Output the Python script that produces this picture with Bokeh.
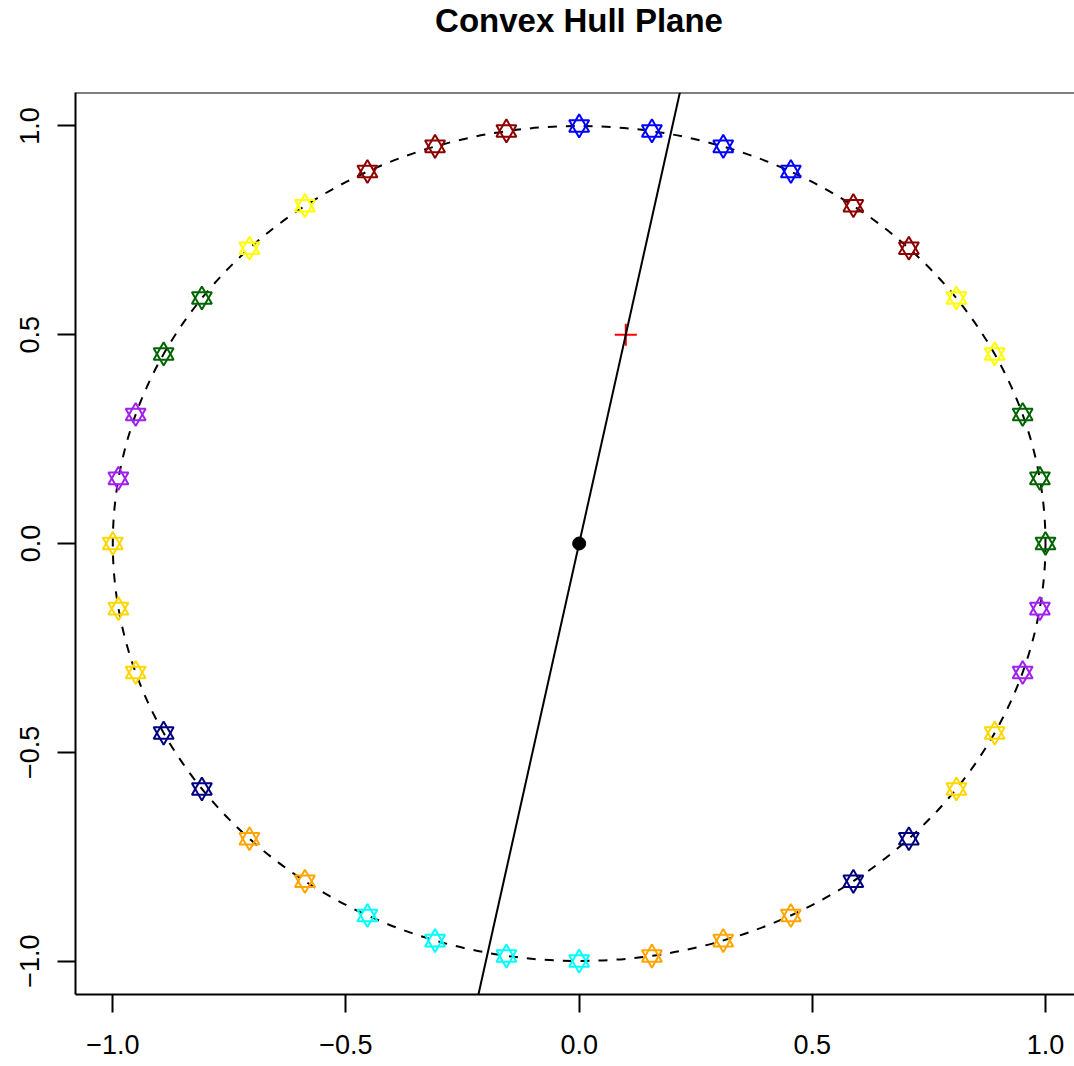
from bokeh.plotting import figure
from bokeh.models import Range1d, FixedTicker, Span, Slope, Label
from bokeh.embed import file_html
from bokeh.resources import INLINE

# Points on the unit circle (every 9 degrees, starting at angle 0)
px = [1.000, 0.988, 0.951, 0.891, 0.809, 0.707, 0.588, 0.454, 0.309, 0.156,
      0.000, -0.156, -0.309, -0.454, -0.588, -0.707, -0.809, -0.891, -0.951, -0.988,
      -1.000, -0.988, -0.951, -0.891, -0.809, -0.707, -0.588, -0.454, -0.309, -0.156,
      0.000, 0.156, 0.309, 0.454, 0.588, 0.707, 0.809, 0.891, 0.951, 0.988]
py = [0.000, 0.156, 0.309, 0.454, 0.588, 0.707, 0.809, 0.891, 0.951, 0.988,
      1.000, 0.988, 0.951, 0.891, 0.809, 0.707, 0.588, 0.454, 0.309, 0.156,
      0.000, -0.156, -0.309, -0.454, -0.588, -0.707, -0.809, -0.891, -0.951, -0.988,
      -1.000, -0.988, -0.951, -0.891, -0.809, -0.707, -0.588, -0.454, -0.309, -0.156]
pcol = ["darkgreen", "darkgreen", "darkgreen", "yellow", "yellow",
        "darkred", "darkred", "blue", "blue", "blue",
        "blue", "darkred", "darkred", "darkred", "yellow",
        "yellow", "darkgreen", "darkgreen", "#A020F0", "#A020F0",
        "gold", "gold", "gold", "navy", "navy",
        "orange", "orange", "cyan", "cyan", "cyan",
        "cyan", "orange", "orange", "orange", "navy",
        "navy", "gold", "gold", "#A020F0", "#A020F0"]

# Hull centre, query point and the separating plane (line through centre)
center_x, center_y = [0.0], [0.0]
query_x, query_y = [0.1], [0.5]
plane_gradient = 5.0
plane_intercept = 0.0

ticks = [-1.0, -0.5, 0.0, 0.5, 1.0]
tick_labels = ["\u22121.0", "\u22120.5", "0.0", "0.5", "1.0"]
title_text = "Convex Hull Plane"

FONT = "Liberation Sans"

p = figure(width=1074, height=1066, output_backend="svg", toolbar_location=None,
           x_range=Range1d(-1.08, 1.0622), y_range=Range1d(-1.08, 1.08),
           min_border_left=75, min_border_right=0, min_border_top=92,
           min_border_bottom=72)

p.outline_line_color = None
p.background_fill_color = "white"
p.border_fill_color = "white"
p.xgrid.grid_line_color = None
p.ygrid.grid_line_color = None

for ax in (p.xaxis[0], p.yaxis[0]):
    ax.ticker = FixedTicker(ticks=ticks)
    ax.major_label_overrides = {t: l for t, l in zip(ticks, tick_labels)}
    ax.axis_line_width = 2
    ax.axis_line_color = "black"
    ax.major_tick_line_width = 2
    ax.major_tick_in = 0
    ax.major_tick_out = 18
    ax.minor_tick_line_color = None
    ax.major_label_text_font = FONT
    ax.major_label_text_font_size = "27px"
    ax.major_label_text_color = "black"
p.xaxis[0].major_label_standoff = 22
p.yaxis[0].major_label_standoff = 18
p.yaxis[0].major_label_orientation = "vertical"

# top edge of the box
p.add_layout(Span(location=1.08, dimension="width", line_color="black", line_width=2))

# dashed unit circle
p.ellipse(x=0, y=0, width=2, height=2, fill_color=None, line_color="black",
          line_width=2, line_dash="9 9")

# separating plane
p.add_layout(Slope(gradient=plane_gradient, y_intercept=plane_intercept,
                   line_color="black", line_width=2))

# star markers: up + down triangles
p.scatter(px, py, marker="triangle", size=20, fill_color=None,
          line_color=pcol, line_width=2)
p.scatter(px, py, marker="inverted_triangle", size=20, fill_color=None,
          line_color=pcol, line_width=2)

p.scatter(center_x, center_y, marker="circle", size=13, fill_color="black",
          line_color="black")
p.scatter(query_x, query_y, marker="cross", size=22, line_color="red",
          line_width=2)

# main title in the top margin, centred over the full plotting region
p.add_layout(Label(x=503.5, y=72, x_units="screen", y_units="screen",
                   text=title_text, text_align="center", text_baseline="alphabetic",
                   text_font=FONT, text_font_size="33px", text_font_style="bold",
                   text_color="black"), "above")

open("out.html", "w").write(file_html(p, INLINE))
